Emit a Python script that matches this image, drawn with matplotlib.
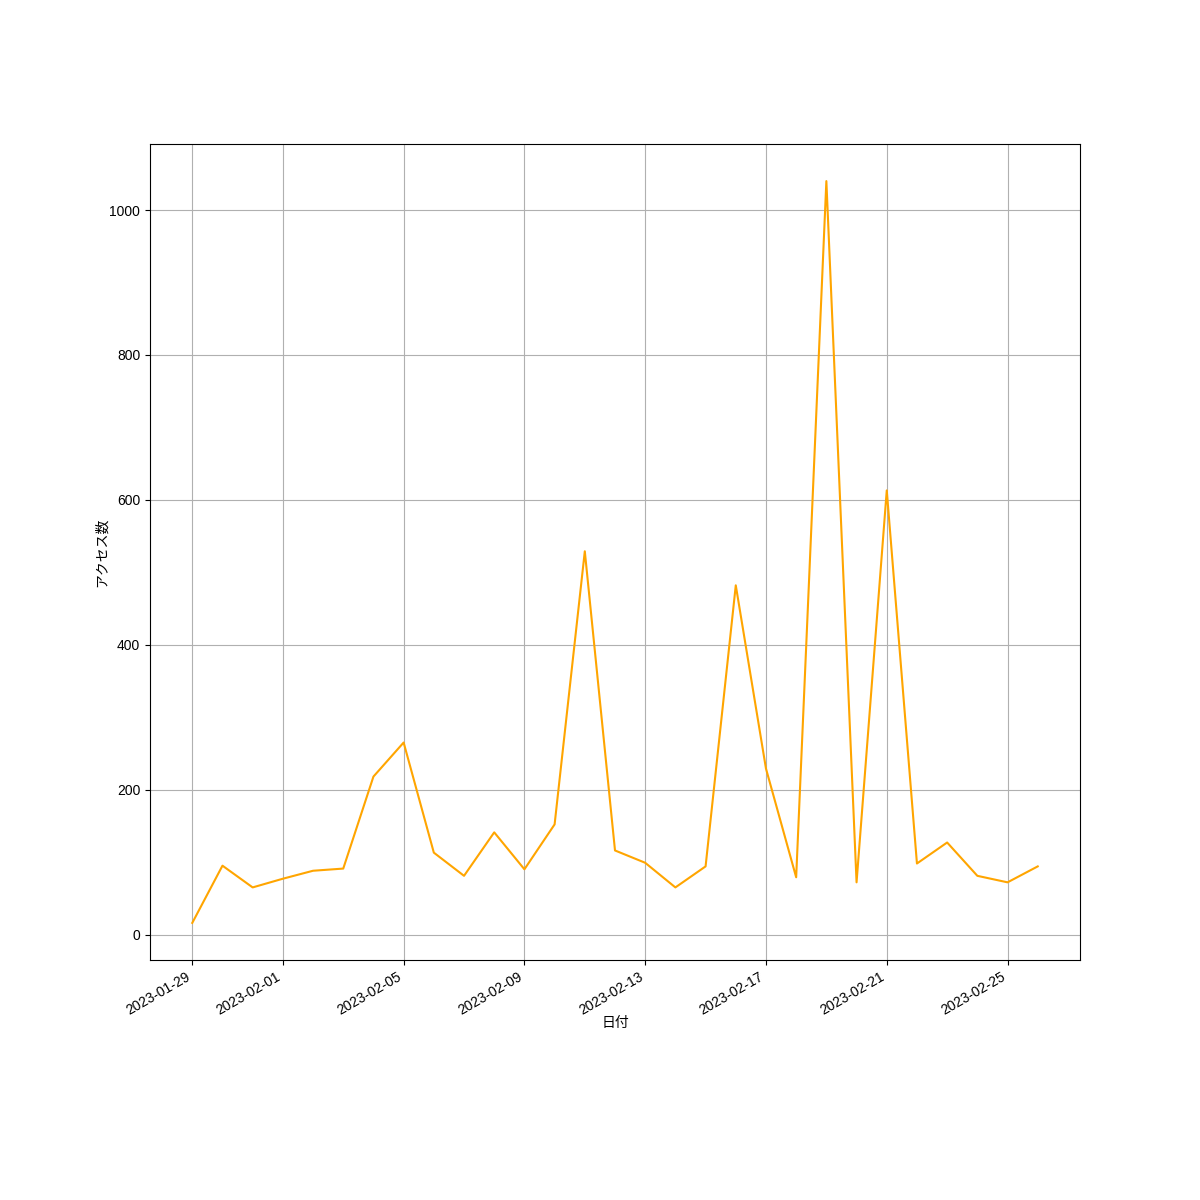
import matplotlib
matplotlib.use("Agg")
import matplotlib.pyplot as plt
import pandas as pd

plt.rcParams['font.family'] = ['Liberation Sans', 'Noto Sans CJK JP', 'DejaVu Sans']

dates = pd.date_range("2023-01-29", "2023-02-26", freq="D")
access = [16, 95, 65, 77, 88, 91, 218, 265, 113, 81, 141, 90, 152, 529,
          116, 99, 65, 94, 482, 229, 79, 1040, 72, 613, 98, 127, 81, 72, 94]

fig, ax = plt.subplots(figsize=(12, 12), dpi=100)
ax.plot(dates, access, color="orange")
ax.set_xlabel("日付", labelpad=-1.5)
ax.set_ylabel("アクセス数", labelpad=0.5)
ax.grid(True)
fig.autofmt_xdate()
fig.savefig("out.png")
